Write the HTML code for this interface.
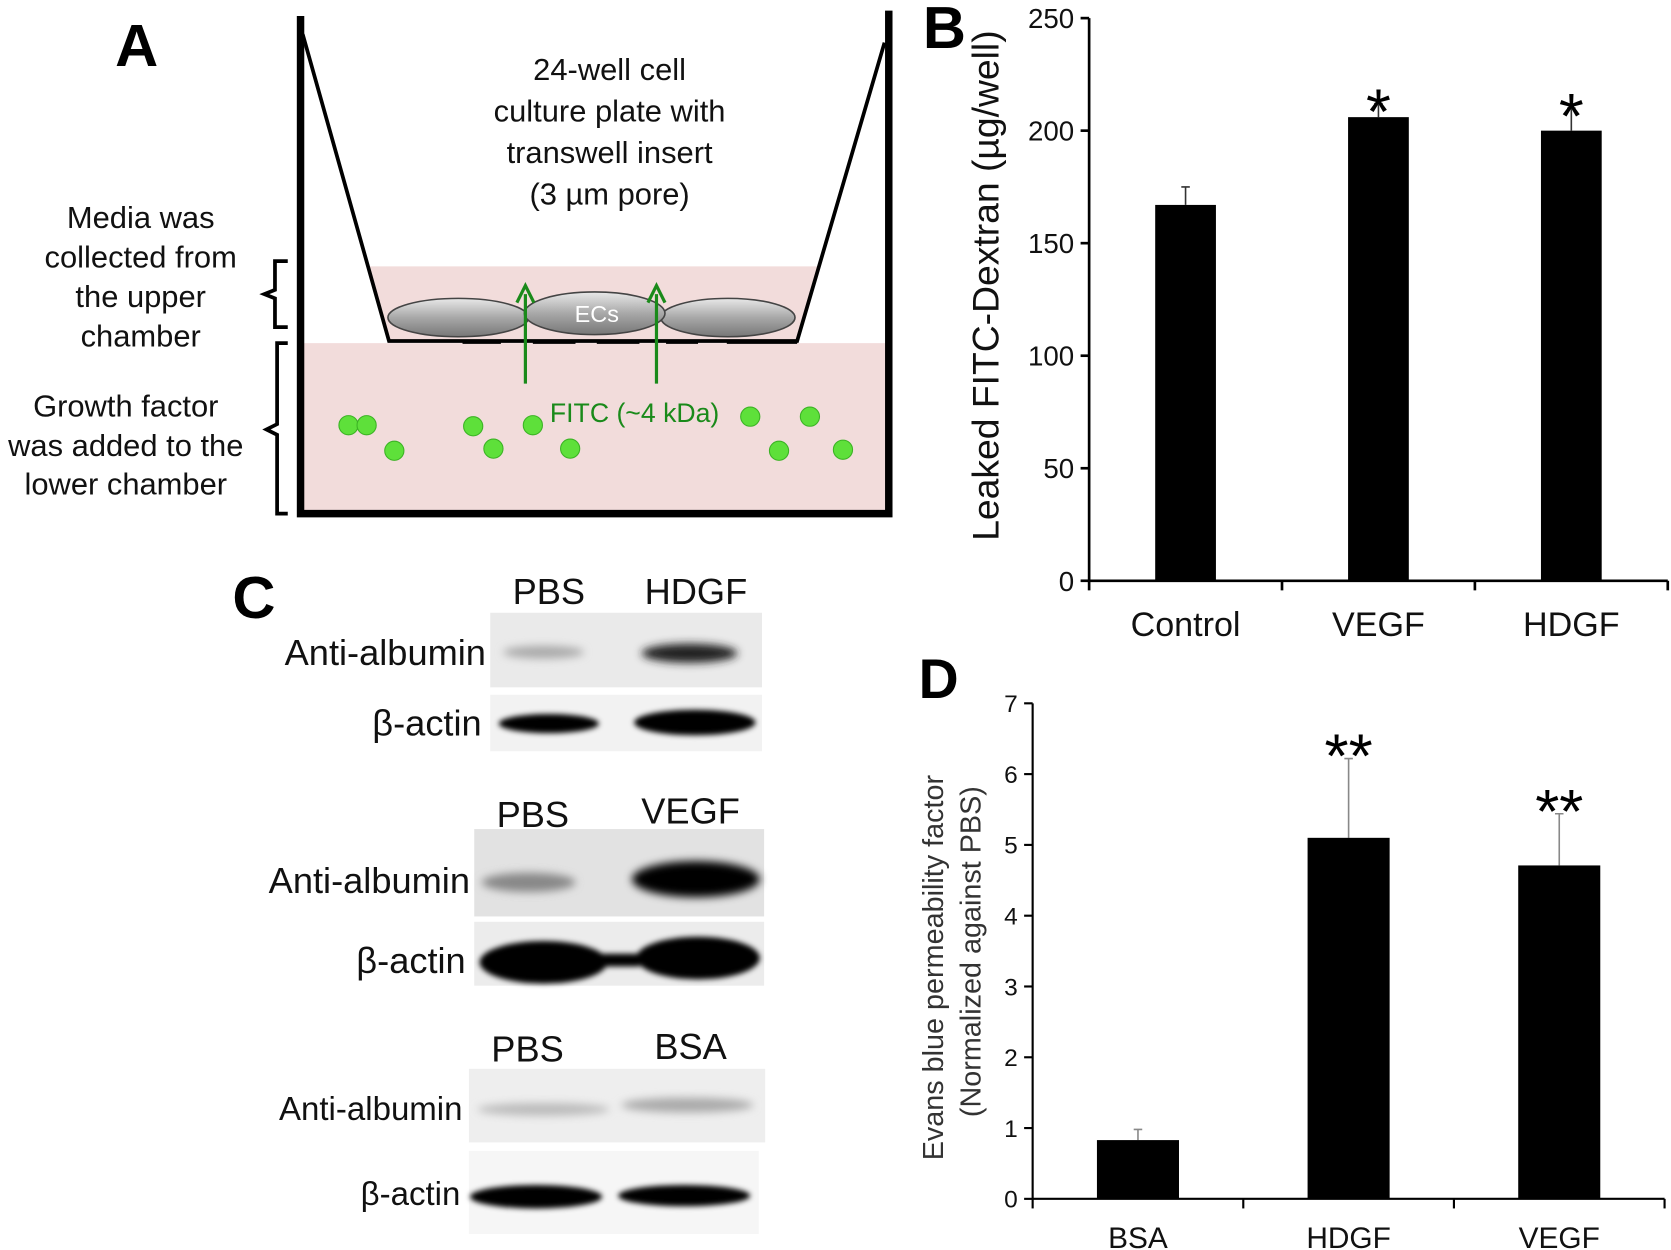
<!DOCTYPE html>
<html><head><meta charset="utf-8"><style>
html,body{margin:0;padding:0;background:#fff}
svg{display:block}
text{font-family:"Liberation Sans",sans-serif}
</style></head><body>
<svg id="fig" width="1671" height="1250" viewBox="0 0 1568 1173" xmlns="http://www.w3.org/2000/svg">
<defs>
<filter id="blur3" x="-20%" y="-100%" width="140%" height="300%"><feGaussianBlur stdDeviation="4"/></filter>
<filter id="blur2" x="-20%" y="-100%" width="140%" height="300%"><feGaussianBlur stdDeviation="2.5"/></filter>
<linearGradient id="cellg" x1="0" y1="0" x2="0" y2="1"><stop offset="0" stop-color="#e8e8e8"/><stop offset="0.5" stop-color="#a8a8a8"/><stop offset="1" stop-color="#777"/></linearGradient>
</defs>

<!-- Panel A -->
<g>
<text x="108" y="62" font-size="56" font-weight="bold">A</text>
<polygon points="346,250 768,250 748,320 365,320" fill="#f2dcdb"/>
<rect x="285" y="322" width="546" height="158" fill="#f2dcdb"/>
<path d="M282 15 L282 482 L834 482 L834 10" fill="none" stroke="#000" stroke-width="7"/>
<path d="M284 32 L365 320 L748 320 L830 40" fill="none" stroke="#000" stroke-width="3.5"/>
<g stroke="#000" stroke-width="3.5">
<line x1="434" y1="321" x2="470" y2="321"/><line x1="500" y1="321" x2="540" y2="321"/><line x1="560" y1="321" x2="600" y2="321"/><line x1="625" y1="321" x2="655" y2="321"/><line x1="682" y1="321" x2="748" y2="321"/>
</g>
<g stroke="#444" stroke-width="1.5" fill="url(#cellg)">
<ellipse cx="430" cy="298" rx="66" ry="18"/><ellipse cx="683" cy="298" rx="63" ry="18"/><ellipse cx="558" cy="294" rx="66" ry="20"/>
</g>
<text x="560" y="302" font-size="22" fill="#fff" text-anchor="middle">ECs</text>
<g stroke="#1a8a1a" stroke-width="3" fill="#1a8a1a">
<line x1="493" y1="360" x2="493" y2="276"/><path d="M485 284 L493 268 L501 284" fill="none"/>
<line x1="616" y1="360" x2="616" y2="276"/><path d="M608 284 L616 268 L624 284" fill="none"/>
</g>
<text x="516" y="396" font-size="25" fill="#1a8a1a">FITC (~4 kDa)</text>
<g fill="#5ee03a" stroke="#3bb324" stroke-width="1">
<circle cx="327" cy="399" r="9"/><circle cx="344" cy="399" r="9"/><circle cx="370" cy="423" r="9"/><circle cx="444" cy="400" r="9"/><circle cx="463" cy="421" r="9"/><circle cx="500" cy="399" r="9"/><circle cx="535" cy="421" r="9"/><circle cx="704" cy="391" r="9"/><circle cx="760" cy="391" r="9"/><circle cx="731" cy="423" r="9"/><circle cx="791" cy="422" r="9"/>
</g>
<g font-size="29" text-anchor="middle" fill="#111">
<text x="572" y="75">24-well cell</text><text x="572" y="114">culture plate with</text><text x="572" y="153">transwell insert</text><text x="572" y="192">(3 µm pore)</text>
</g>
<g font-size="29" text-anchor="middle" fill="#111">
<text x="132" y="214">Media was</text><text x="132" y="251">collected from</text><text x="132" y="288">the upper</text><text x="132" y="325">chamber</text>
</g>
<g font-size="29" text-anchor="middle" fill="#111">
<text x="118" y="391">Growth factor</text><text x="118" y="428">was added to the</text><text x="118" y="464">lower chamber</text>
</g>
<g fill="none" stroke="#000" stroke-width="3.5">
<path d="M270 245 L258 245 L258 272 L248 276 L258 280 L258 307 L270 307"/>
<path d="M270 322 L260 322 L260 398 L250 403 L260 408 L260 482 L270 482"/>
</g>
</g>

<!-- Panel C -->
<g>
<text x="218" y="580" font-size="56" font-weight="bold">C</text>
<g font-size="34" fill="#111" text-anchor="middle">
<text x="515" y="567">PBS</text><text x="653" y="567">HDGF</text>
<text x="500" y="776">PBS</text><text x="648" y="773">VEGF</text>
<text x="495" y="996">PBS</text><text x="648" y="994">BSA</text>
</g>
<g font-size="34" fill="#111" text-anchor="end">
<text x="456" y="624">Anti-albumin</text><text x="452" y="690">β-actin</text>
<text x="441" y="838">Anti-albumin</text><text x="437" y="913">β-actin</text>
</g>
<g font-size="31" fill="#111" text-anchor="end">
<text x="434" y="1051">Anti-albumin</text><text x="432" y="1131">β-actin</text>
</g>
<g>
<rect x="460" y="575" width="255" height="70" fill="#eaeaea"/>
<rect x="460" y="652" width="255" height="53" fill="#f2f2f2"/>
<rect x="445" y="778" width="272" height="82" fill="#e2e2e2"/>
<rect x="445" y="865" width="272" height="60" fill="#ececec"/>
<rect x="440" y="1003" width="278" height="69" fill="#eeeeee"/>
<rect x="440" y="1080" width="272" height="78" fill="#f6f6f6"/>
<g filter="url(#blur3)">
<ellipse cx="510" cy="612" rx="38" ry="6" fill="#aaa"/>
<ellipse cx="647" cy="613" rx="45" ry="9" fill="#222"/>
<ellipse cx="496" cy="828" rx="44" ry="9" fill="#888"/>
<ellipse cx="653" cy="825" rx="60" ry="17" fill="#000"/>
<ellipse cx="510" cy="1041" rx="62" ry="6" fill="#bbb"/>
<ellipse cx="645" cy="1037" rx="62" ry="7" fill="#aaa"/>
</g>
<g filter="url(#blur2)">
<ellipse cx="515" cy="679" rx="47" ry="9" fill="#000"/>
<ellipse cx="652" cy="678" rx="57" ry="12" fill="#000"/>
<ellipse cx="510" cy="903" rx="60" ry="20" fill="#000"/>
<ellipse cx="655" cy="899" rx="58" ry="20" fill="#000"/>
<rect x="540" y="895" width="60" height="12" fill="#000"/>
<ellipse cx="503" cy="1123" rx="62" ry="11" fill="#000"/>
<ellipse cx="642" cy="1122" rx="62" ry="10" fill="#000"/>
</g>
</g>
</g>

<!-- Panel B -->
<g id="chartB">
<text x="866" y="45" font-size="56" font-weight="bold">B</text>
<text transform="translate(937,268) rotate(-90)" font-size="35" text-anchor="middle" fill="#111">Leaked FITC-Dextran  (µg/well)</text>
</g>

<!-- Panel D -->
<g id="chartD">
<text x="862" y="655" font-size="52" font-weight="bold">D</text>
<g font-size="27" text-anchor="middle" fill="#333">
<text transform="translate(885,908) rotate(-90)">Evans blue permeability factor</text>
<text transform="translate(920,893) rotate(-90)">(Normalized  against PBS)</text>
</g>
</g>
</svg>
<script>
const NS='http://www.w3.org/2000/svg';
const bCats=['Control','VEGF','HDGF'];
const bVals=[167,206,200];
const bErr=[8,6,10];
const bSig=['','*','*'];
const bTicks=[0,50,100,150,200,250];
const dCats=['BSA','HDGF','VEGF'];
const dVals=[0.83,5.1,4.71];
const dErr=[0.15,1.12,0.73];
const dSig=['','**','**'];
const dTicks=[0,1,2,3,4,5,6,7];

function mk(parent,tag,attrs,txt){const e=document.createElementNS(NS,tag);for(const k in attrs)e.setAttribute(k,attrs[k]);if(txt!==undefined)e.textContent=txt;parent.appendChild(e);return e;}

function drawChart(g,cfg){
  const yS=v=>cfg.y0-(v-cfg.min)/(cfg.max-cfg.min)*(cfg.y0-cfg.yTop);
  const step=(cfg.xEnd-cfg.x0)/cfg.cats.length;
  const xS=i=>cfg.x0+step*(i+0.5);
  const ax=mk(g,'path',{d:`M${cfg.x0} ${cfg.yTop} L${cfg.x0} ${cfg.y0} L${cfg.xEnd} ${cfg.y0}`,fill:'none',stroke:'#000','stroke-width':cfg.axW});
  
  
  cfg.ticks.forEach(t=>{
    const y=yS(t);
    const l=mk(g,'line',{x1:cfg.x0-8,x2:cfg.x0,y1:y,y2:y,stroke:'#000','stroke-width':cfg.axW});
    
    
    const tx=mk(g,'text',{x:cfg.x0-14,y:y+cfg.tickFs*0.36,'font-size':cfg.tickFs,'text-anchor':'end',fill:'#111'},t);
    
    
  });
  for(let i=0;i<=cfg.cats.length;i++){
    const x=cfg.x0+step*i;
    const l=mk(g,'line',{x1:x,x2:x,y1:cfg.y0,y2:cfg.y0+9,stroke:'#000','stroke-width':cfg.axW});
    
    
  }
  cfg.cats.forEach((c,i)=>{
    const cx=xS(i), top=yS(cfg.vals[i]);
    const eTop=yS(cfg.vals[i]+cfg.err[i]);
    const e=mk(g,'path',{d:`M${cx} ${top} L${cx} ${eTop} M${cx-4} ${eTop} L${cx+4} ${eTop}`,stroke:cfg.errC,'stroke-width':1.5,fill:'none'});
    
    
    const r=mk(g,'rect',{x:cx-cfg.bw/2,y:top,width:cfg.bw,height:cfg.y0-top,fill:'#000'});
    
    
    const lb=mk(g,'text',{x:cx,y:cfg.y0+cfg.labOff,'font-size':cfg.labFs,'text-anchor':'middle',fill:'#111'},c);
    
    
    if(cfg.sig[i]){
      const s=mk(g,'text',{x:cx,y:eTop+cfg.sigOff,'font-size':cfg.sigFs,'text-anchor':'middle',fill:'#000'},cfg.sig[i]);
      
      
    }
  });
}
drawChart(document.getElementById('chartB'),{id:'b',cats:bCats,vals:bVals,err:bErr,sig:bSig,ticks:bTicks,min:0,max:250,x0:1022,xEnd:1565,y0:545,yTop:17,bw:57,axW:2.5,tickFs:26,labFs:32,labOff:52,sigFs:60,sigOff:28,errC:'#333'});
drawChart(document.getElementById('chartD'),{id:'d',cats:dCats,vals:dVals,err:dErr,sig:dSig,ticks:dTicks,min:0,max:7,x0:969,xEnd:1562,y0:1125,yTop:660,bw:77,axW:2,tickFs:23,labFs:28,labOff:46,sigFs:58,sigOff:18,errC:'#888'});
</script>
</body></html>
